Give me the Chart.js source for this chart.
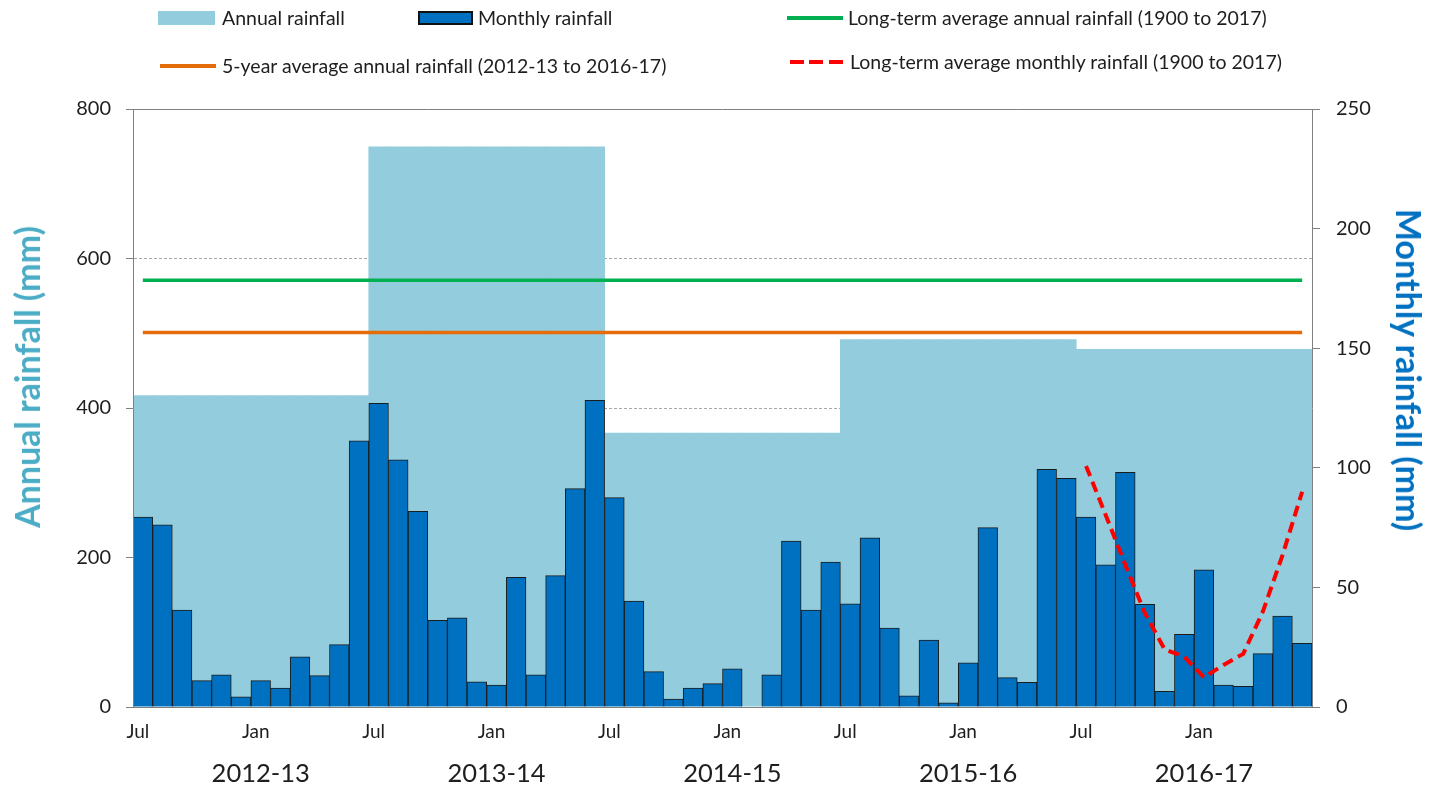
<!DOCTYPE html>
<html>
<head>
<meta charset="utf-8">
<script src="https://cdn.jsdelivr.net/npm/chart.js@4.4.1/dist/chart.umd.min.js"></script>
<style>
  html, body { margin: 0; padding: 0; background: #fff; }
  #wrap { position: relative; width: 1440px; height: 787px; overflow: hidden; font-family: Lato, "Noto Sans", sans-serif; color: #1e1e1e; }
  canvas { position: absolute; left: 0; top: 0; }
  .lg-text { position: absolute; font-size: 19.5px; line-height: 24px; height: 24px; white-space: nowrap; }
  .lg-mark { position: absolute; }
  .axis-title { position: absolute; font-weight: bold; font-size: 34px; white-space: nowrap; line-height: 1; }
</style>
</head>
<body>
<div id="wrap">
  <canvas id="rainChart" width="1440" height="787"></canvas>

  <!-- legend, row 1 -->
  <div class="lg-mark" style="left:158px; top:11px; width:57px; height:14px; background:#93CDDD;"></div>
  <div class="lg-text" style="left:222px; top:6px;">Annual rainfall</div>
  <div class="lg-mark" style="left:418px; top:11px; width:55px; height:14px; background:#0070C0; border:2px solid #111; box-sizing:border-box;"></div>
  <div class="lg-text" style="left:478px; top:6px;">Monthly rainfall</div>
  <div class="lg-mark" style="left:787px; top:16px; width:56px; height:4px; background:#00B050;"></div>
  <div class="lg-text" style="left:848px; top:6px;">Long-term average annual rainfall (1900 to 2017)</div>

  <!-- legend, row 2 -->
  <div class="lg-mark" style="left:160px; top:64px; width:56px; height:4px; background:#E46C0A;"></div>
  <div class="lg-text" style="left:222px; top:54px;">5-year average annual rainfall (2012-13 to 2016-17)</div>
  <div class="lg-mark" style="left:790px; top:60px; width:53px; height:4px; background:repeating-linear-gradient(to right, #FF0000 0 14px, transparent 14px 19.5px);"></div>
  <div class="lg-text" style="left:850px; top:50px;">Long-term average monthly rainfall (1900 to 2017)</div>

  <div class="axis-title" style="left:27px; top:377px; color:#4BACC6; transform:translate(-50%,-50%) rotate(-90deg);">Annual rainfall (mm)</div>
  <div class="axis-title" style="left:1409px; top:370px; color:#0070C0; transform:translate(-50%,-50%) rotate(90deg);">Monthly rainfall (mm)</div>
</div>

<script>
/* =========================================================
   DATA
========================================================= */

const monthNames = ["Jul", "Aug", "Sep", "Oct", "Nov", "Dec",
                    "Jan", "Feb", "Mar", "Apr", "May", "Jun"];

const financialYears = ["2012-13", "2013-14", "2014-15", "2015-16", "2016-17"];

// monthly rainfall (mm), Jul 2012 .. Jun 2017
const monthly2012_13 = [79.4, 76.2, 40.5, 11.0, 13.5, 4.2, 11.0, 7.9, 21.0, 13.1, 26.1, 111.3];
const monthly2013_14 = [127.0, 103.3, 81.8, 36.2, 37.3, 10.5, 9.2, 54.2, 13.5, 54.9, 91.3, 128.2];
const monthly2014_15 = [87.5, 44.3, 14.8, 3.3, 7.9, 9.8, 16.0, 0, 13.5, 69.4, 40.5, 60.6];
const monthly2015_16 = [43.1, 70.7, 33.0, 4.7, 28.0, 1.7, 18.5, 75.0, 12.3, 10.3, 99.4, 95.6];
const monthly2016_17 = [79.4, 59.4, 98.1, 42.9, 6.6, 30.4, 57.3, 9.2, 8.6, 22.3, 38.0, 26.6];

// annual rainfall (mm) per financial year
const annualRain = [417, 750, 367, 492, 479];

// long-term average monthly rainfall (Jul .. Jun), shown over 2016-17
const longTermMonthly = [100.8, 80.3, 59.4, 39.2, 24.1, 21.0, 12.4, 17.6, 22.2, 39.9, 63.5, 90.0];

const longTermAnnual = 571;
const fiveYearAverage = 501;

const leftTicks = [0, 200, 400, 600, 800];
const rightTicks = [0, 50, 100, 150, 200, 250];

/* =========================================================
   TABLES FOR THE LIBRARY
========================================================= */

const monthlyRain = [].concat(monthly2012_13, monthly2013_14, monthly2014_15,
                              monthly2015_16, monthly2016_17);

const categories = financialYears.flatMap(() => monthNames);
const yearRow = financialYears.flatMap(y => monthNames.map(m => (m === "Jan" ? y : "")));
const annualPerMonth = annualRain.flatMap(v => monthNames.map(() => v));
const longTermMonthlyRow = financialYears.slice(0, -1)
  .flatMap(() => monthNames.map(() => null))
  .concat(longTermMonthly);

const AXIS_GREY = "#808080";
const TEXT = "#1e1e1e";
const FONT = "Lato, 'Noto Sans', sans-serif";

/* =========================================================
   CHART
========================================================= */

new Chart(document.getElementById("rainChart"), {
  type: "bar",
  data: {
    labels: categories,
    datasets: [
      {
        label: "Annual rainfall",
        data: annualPerMonth,
        yAxisID: "y",
        backgroundColor: "#93CDDD",
        borderWidth: 0,
        grouped: false,
        categoryPercentage: 1,
        barPercentage: 1.04,
        order: 5
      },
      {
        label: "Monthly rainfall",
        data: monthlyRain,
        yAxisID: "y1",
        backgroundColor: "#0070C0",
        borderColor: "#1c1c1c",
        borderWidth: 1,
        grouped: false,
        categoryPercentage: 1,
        barPercentage: 1,
        order: 4
      },
      {
        type: "line",
        label: "5-year average annual rainfall (2012-13 to 2016-17)",
        data: categories.map(() => fiveYearAverage),
        yAxisID: "y",
        borderColor: "#E46C0A",
        borderWidth: 3.5,
        pointRadius: 0,
        order: 3
      },
      {
        type: "line",
        label: "Long-term average annual rainfall (1900 to 2017)",
        data: categories.map(() => longTermAnnual),
        yAxisID: "y",
        borderColor: "#00B050",
        borderWidth: 3.5,
        pointRadius: 0,
        order: 2
      },
      {
        type: "line",
        label: "Long-term average monthly rainfall (1900 to 2017)",
        data: longTermMonthlyRow,
        yAxisID: "y1",
        borderColor: "#FF0000",
        borderWidth: 4,
        borderDash: [11, 6],
        pointRadius: 0,
        tension: 0,
        order: 1
      }
    ]
  },
  options: {
    responsive: false,
    devicePixelRatio: 1,
    animation: false,
    events: [],
    layout: { padding: { top: 109, left: 0, right: 0, bottom: 0 } },
    plugins: {
      legend: { display: false },
      tooltip: { enabled: false }
    },
    scales: {
      x: {
        type: "category",
        position: "bottom",
        offset: true,
        grid: { display: false, drawTicks: false },
        border: { color: AXIS_GREY, width: 1, z: 1 },
        ticks: {
          autoSkip: false,
          maxRotation: 0,
          padding: 13,
          labelOffset: -5,
          color: TEXT,
          font: { family: FONT, size: 19 },
          callback: (v, i) => (categories[i] === "Jul" || categories[i] === "Jan" ? categories[i] : "")
        },
        afterFit: s => { s.height = 40; }
      },
      xYear: {
        type: "category",
        labels: yearRow,
        position: "bottom",
        offset: true,
        grid: { display: false, drawTicks: false },
        border: { display: false },
        ticks: {
          autoSkip: false,
          maxRotation: 0,
          padding: 11,
          color: TEXT,
          font: { family: FONT, size: 25.5 }
        },
        afterFit: s => { s.height = 40; }
      },
      y: {
        position: "left",
        min: 0,
        max: 800,
        afterBuildTicks: s => { s.ticks = leftTicks.map(v => ({ value: v })); },
        grid: {
          color: c => (c.tick && (c.tick.value === 0 || c.tick.value === 800) ? "rgba(0,0,0,0)" : "#A6A6A6"),
          lineWidth: 1,
          tickLength: 7,
          tickColor: AXIS_GREY,
          tickBorderDash: []
        },
        border: { color: AXIS_GREY, width: 1, dash: [3, 2], z: 1 },
        ticks: {
          padding: 15,
          color: TEXT,
          font: { family: FONT, size: 20 }
        },
        afterFit: s => { s.width = 133; }
      },
      y1: {
        position: "right",
        min: 0,
        max: 250,
        afterBuildTicks: s => { s.ticks = rightTicks.map(v => ({ value: v })); },
        grid: {
          color: c => (c.tick && c.tick.value === 250 ? AXIS_GREY : "rgba(0,0,0,0)"),
          lineWidth: 1,
          tickLength: 8,
          tickColor: AXIS_GREY
        },
        border: { color: AXIS_GREY, width: 1, z: 1 },
        ticks: {
          padding: 16,
          color: TEXT,
          font: { family: FONT, size: 20 }
        },
        afterFit: s => { s.width = 128; }
      }
    }
  }
});
</script>
</body>
</html>
